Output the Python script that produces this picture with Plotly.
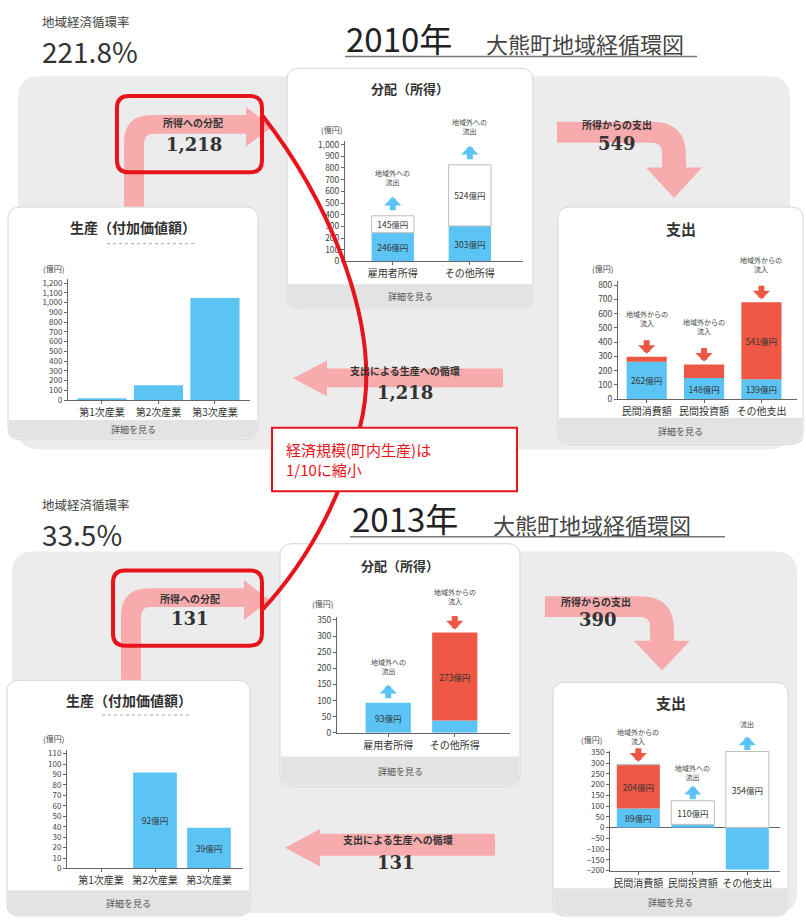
import plotly.graph_objects as go

W, H = 806, 924
JP = "Noto Sans CJK JP"
BLUE = "#5cc4f5"
RED = "#ec5843"
PINK = "#f7abad"
GRAY = "#ececec"
STRIP = "#e3e3e3"
RB = "#e8141b"
TXT = "#333333"

# ---------------- data ----------------
years = ["2010年", "2013年"]
subtitle = "大熊町地域経循環図"
circ_label = "地域経済循環率"
circ_rate = ["221.8%", "33.5%"]
flow_income = ["1,218", "131"]   # 所得への分配
flow_spend = ["549", "390"]      # 所得からの支出
flow_prod = ["1,218", "131"]     # 支出による生産への循環
note_text = "経済規模(町内生産)は<br>1/10に縮小"

prod_cats = ["第1次産業", "第2次産業", "第3次産業"]
inc_cats = ["雇用者所得", "その他所得"]
exp_cats = ["民間消費額", "民間投資額", "その他支出"]

prod_2010 = [18, 152, 1048]
inc_2010_blue = [246, 303]
inc_2010_out = [145, 524]
exp_2010_blue = [262, 148, 139]
exp_2010_in = [35, 95, 541]

prod_2013 = [0, 92, 39]
inc_2013_blue = [93, 38]
inc_2013_in = [0, 273]
exp_2013_blue = [89, 15, -195]
exp_2013_in = [204, 0, 0]
exp_2013_out = [0, 110, 354]

# which segments carry a value label
prod_2010_lbl = [False, False, False]
inc_2010_blue_lbl = [True, True]
inc_2010_out_lbl = [True, True]
exp_2010_blue_lbl = [True, True, True]
exp_2010_in_lbl = [False, False, True]
prod_2013_lbl = [False, True, True]
inc_2013_blue_lbl = [True, False]
inc_2013_in_lbl = [False, True]
exp_2013_blue_lbl = [True, False, False]
exp_2013_in_lbl = [True, False, False]
exp_2013_out_lbl = [False, True, True]

# flow arrows above bars
inc_2010_arrows = ["out", "out"]
exp_2010_arrows = ["in", "in", "in"]
inc_2013_arrows = ["out", "in"]
exp_2013_arrows = ["in", "out", "out"]
arrow_text = {"out": "地域外への<br>流出", "in": "地域外からの<br>流入"}
exp_2013_arrow_text = [arrow_text["in"], arrow_text["out"], "流出"]


def X(x):
    return x / W


def Y(y):
    return 1 - y / H


def P(cmds):
    out = []
    for c in cmds:
        nums = c[1:]
        pts = [f"{X(nums[i]):.5f},{Y(nums[i + 1]):.5f}" for i in range(0, len(nums), 2)]
        out.append(c[0] + " ".join(pts))
    return " ".join(out)


def rrect(x0, y0, x1, y1, r, rt=None, rb=None):
    rt = r if rt is None else rt
    rb = r if rb is None else rb
    return P([("M", x0 + rt, y0), ("L", x1 - rt, y0), ("Q", x1, y0, x1, y0 + rt),
              ("L", x1, y1 - rb), ("Q", x1, y1, x1 - rb, y1), ("L", x0 + rb, y1),
              ("Q", x0, y1, x0, y1 - rb), ("L", x0, y0 + rt), ("Q", x0, y0, x0 + rt, y0), ("Z",)])


shapes = []
annotations = []


def shp(path, fill=None, line=None, width=0, layer="below", dash=None):
    d = dict(type="path", path=path, xref="paper", yref="paper", layer=layer,
             line=dict(color=line or "rgba(0,0,0,0)", width=width))
    if dash:
        d["line"]["dash"] = dash
    if fill:
        d["fillcolor"] = fill
    shapes.append(d)


def txt(x, y, s, size, color=TXT, bold=False, anchor="center", family=JP, align="center"):
    annotations.append(dict(x=X(x), y=Y(y), xref="paper", yref="paper",
                            text=f"<b>{s}</b>" if bold else s, showarrow=False,
                            font=dict(size=size, color=color, family=family),
                            xanchor=anchor, yanchor="middle", align=align))


def card(x0, y0, x1, y1, strip_top, title, title_y, title_size):
    shp(rrect(x0, y0, x1, y1, 12), fill="white", line="#d6d6d6", width=1)
    shp(rrect(x0 + 1, strip_top, x1 - 1, y1 - 1, 11, rt=0), fill=STRIP)
    txt((x0 + x1) / 2, title_y, title, title_size, bold=True)
    txt((x0 + x1) / 2, (strip_top + y1) / 2, "詳細を見る", 9, color="#555")


def income_arrow(sx0, sx1, by0, by1, hx, tipx, hy0, hy1, yb):
    r = 28
    cy = (hy0 + hy1) / 2
    shp(P([("M", sx0, yb), ("L", sx0, by0 + r), ("Q", sx0, by0, sx0 + r, by0), ("L", hx, by0),
           ("L", hx, hy0), ("L", tipx, cy), ("L", hx, hy1), ("L", hx, by1),
           ("L", sx1 + 10, by1), ("Q", sx1, by1, sx1, by1 + 10), ("L", sx1, yb), ("Z",)]), fill=PINK)


def spend_arrow(bx0, by0, by1, sx0, sx1, hy, hx0, hx1, tipy):
    r = 34
    shp(P([("M", bx0, by0), ("L", sx1 - r, by0), ("Q", sx1, by0, sx1, by0 + r), ("L", sx1, hy),
           ("L", hx1, hy), ("L", (hx0 + hx1) / 2, tipy), ("L", hx0, hy), ("L", sx0, hy),
           ("L", sx0, by1 + 10), ("Q", sx0, by1, sx0 - 10, by1), ("L", bx0, by1), ("Z",)]), fill=PINK)


def prod_arrow(bx1, by0, by1, hx, tipx, hy0, hy1):
    cy = (hy0 + hy1) / 2
    shp(P([("M", bx1, by0), ("L", hx, by0), ("L", hx, hy0), ("L", tipx, cy), ("L", hx, hy1),
           ("L", hx, by1), ("L", bx1, by1), ("Z",)]), fill=PINK)


# ---------------- section 2010 ----------------
txt(40, 18, circ_label, 12.5, color="#444", anchor="left")
txt(40, 47, circ_rate[0], 28, color="#333", anchor="left")
txt(344, 34, years[0], 33, color="#222", anchor="left")
txt(484, 39, subtitle, 22, color="#444", anchor="left")
shapes.append(dict(type="line", xref="paper", yref="paper", x0=X(345), x1=X(697), y0=Y(53), y1=Y(53),
                   line=dict(color="#777", width=1.5), layer="below"))
shp(rrect(18, 73, 790, 450, 22), fill=GRAY)
income_arrow(124, 144, 112, 131, 246, 272, 104, 144, 206)
spend_arrow(557, 119, 140, 662, 686, 165, 646, 702, 196)
prod_arrow(503, 368, 387, 327, 293, 360, 396)
card(287, 65, 533, 308, 283, "分配（所得）", 85, 13)
card(8, 205, 258, 440, 420, "生産（付加価値額）", 225, 14)
card(558, 205, 803, 445, 418, "支出", 227, 15)
shapes.append(dict(type="line", xref="paper", yref="paper", x0=X(107), x1=X(197), y0=Y(242), y1=Y(242),
                   line=dict(color="#aaa", width=1, dash="dot"), layer="below"))
txt(193, 120, "所得への分配", 10, bold=True)
txt(194, 142, flow_income[0], 18, bold=True, family="DejaVu Serif")
txt(617, 122, "所得からの支出", 10, bold=True)
txt(617, 141, flow_spend[0], 18, bold=True, family="DejaVu Serif")
txt(405, 370, "支出による生産への循環", 10, bold=True)
txt(405, 392, flow_prod[0], 18, bold=True, family="DejaVu Serif")

# ---------------- section 2013 ----------------
txt(40, 505, circ_label, 12.5, color="#444", anchor="left")
txt(40, 535, circ_rate[1], 28, color="#333", anchor="left")
txt(350, 519, years[1], 33, color="#222", anchor="left")
txt(491, 525, subtitle, 22, color="#444", anchor="left")
shapes.append(dict(type="line", xref="paper", yref="paper", x0=X(350), x1=X(725), y0=Y(538), y1=Y(538),
                   line=dict(color="#777", width=1.5), layer="below"))
shp(rrect(12, 553, 797, 918, 22), fill=GRAY)
income_arrow(121, 141, 590, 609, 244, 270, 582, 622, 684)
spend_arrow(545, 598, 619, 650, 674, 643, 634, 690, 673)
prod_arrow(495, 838, 860, 320, 285, 833, 871)
card(280, 545, 520, 790, 760, "分配（所得）", 567, 13)
card(7, 683, 250, 921, 895, "生産（付加価値額）", 703, 14)
card(553, 685, 788, 921, 893, "支出", 705, 15)
shapes.append(dict(type="line", xref="paper", yref="paper", x0=X(102), x1=X(190), y0=Y(718), y1=Y(718),
                   line=dict(color="#aaa", width=1, dash="dot"), layer="below"))
txt(190, 600, "所得への分配", 10, bold=True)
txt(190, 621, flow_income[1], 18, bold=True, family="DejaVu Serif")
txt(596, 603, "所得からの支出", 10, bold=True)
txt(598, 622, flow_spend[1], 18, bold=True, family="DejaVu Serif")
txt(398, 844, "支出による生産への循環", 10, bold=True)
txt(396, 867, flow_prod[1], 18, bold=True, family="DejaVu Serif")

# ---------------- red highlight ----------------
shp(P([("M", 262, 112), ("C", 330, 200, 385, 330, 360, 427), ("C", 345, 485, 315, 555, 262, 612)]),
    line=RB, width=4, layer="above")
shp(rrect(272, 428, 517, 492, 0), fill="white", line=RB, width=2, layer="above")
annotations.append(dict(x=X(284), y=Y(460), xref="paper", yref="paper", text=note_text, showarrow=False,
                        font=dict(size=15, color=RB, family=JP), xanchor="left", yanchor="middle", align="left"))
shp(rrect(117, 93, 262, 170, 12), line=RB, width=4, layer="above")
shp(rrect(113, 572, 262, 648, 12), line=RB, width=4, layer="above")

# ---------------- charts ----------------
charts = [
    dict(cats=prod_cats, dom=(68, 250, 278, 400), yr=[0, 1240], xr=[-0.6, 2.62], dtick=100, unit=(53, 267),
         width=0.87, tf=8, series=[(prod_2010, BLUE, prod_2010_lbl, False)]),
    dict(cats=inc_cats, dom=(345, 523, 138, 260), yr=[0, 1034], xr=[-0.62, 1.69], dtick=100, unit=(331, 127),
         width=0.55, tf=8.5, series=[(inc_2010_blue, BLUE, inc_2010_blue_lbl, False),
                                     (inc_2010_out, "white", inc_2010_out_lbl, True)],
         arrows=inc_2010_arrows, atext=[arrow_text[a] for a in inc_2010_arrows], hoff=19, loff=38),
    dict(cats=exp_cats, dom=(618, 797, 280, 399), yr=[0, 828], xr=[-0.5, 2.62], dtick=100, unit=(602, 267),
         width=0.7, tf=8.5, series=[(exp_2010_blue, BLUE, exp_2010_blue_lbl, False),
                                    (exp_2010_in, RED, exp_2010_in_lbl, False)],
         arrows=exp_2010_arrows, atext=[arrow_text[a] for a in exp_2010_arrows], hoff=19, loff=38),
    dict(cats=prod_cats, dom=(67, 243, 753, 873), yr=[0, 113.8], xr=[-0.63, 2.63], dtick=10, unit=(54, 742),
         width=0.81, tf=8, series=[(prod_2013, BLUE, prod_2013_lbl, False)]),
    dict(cats=inc_cats, dom=(337, 510, 619, 736), yr=[0, 359], xr=[-0.77, 1.83], dtick=50, unit=(322, 605),
         width=0.68, tf=8.5, series=[(inc_2013_blue, BLUE, inc_2013_blue_lbl, False),
                                     (inc_2013_in, RED, inc_2013_in_lbl, False)],
         arrows=inc_2013_arrows, atext=[arrow_text[a] for a in inc_2013_arrows], hoff=18, loff=36),
    dict(cats=exp_cats, dom=(610, 780, 754, 876), yr=[-204, 358], xr=[-0.52, 2.6], dtick=50, unit=(591, 743),
         width=0.79, tf=8, series=[(exp_2013_blue, BLUE, exp_2013_blue_lbl, False),
                                   (exp_2013_in, RED, exp_2013_in_lbl, False),
                                   (exp_2013_out, "white", exp_2013_out_lbl, True)],
         arrows=exp_2013_arrows, atext=exp_2013_arrow_text, hoff=15, loff=28, zero=True),
]

fig = go.Figure()
layout = {}
for i, ch in enumerate(charts, 1):
    sx = "" if i == 1 else str(i)
    xref, yref = "x" + sx, "y" + sx
    l, r, t, b = ch["dom"]
    layout["xaxis" + sx] = dict(domain=[X(l), X(r)], range=ch["xr"], anchor=yref, type="category",
                                categoryorder="array", categoryarray=ch["cats"], showline=True,
                                linecolor="#666", ticks="outside", ticklen=3, tickcolor="#666",
                                tickfont=dict(size=10, family=JP, color=TXT), showgrid=False, zeroline=False,
                                fixedrange=True)
    layout["yaxis" + sx] = dict(domain=[Y(b), Y(t)], range=ch["yr"], anchor=xref, dtick=ch["dtick"], tick0=0,
                                showline=True, linecolor="#666", ticks="outside", ticklen=3, tickcolor="#666",
                                tickfont=dict(size=ch["tf"], family=JP, color="#444"), tickformat=",",
                                showgrid=False, zeroline=ch.get("zero", False), zerolinecolor="#666",
                                zerolinewidth=1, fixedrange=True)
    for vals, col, lbl, outline in ch["series"]:
        fig.add_trace(go.Bar(
            x=ch["cats"], y=vals, xaxis=xref, yaxis=yref, width=ch["width"],
            marker=dict(color=col, line=dict(color="#bdbdbd" if outline else col, width=1 if outline else 0)),
            text=[f"{v}億円" if s else "" for v, s in zip(vals, lbl)],
            textposition="inside", insidetextanchor="middle", textangle=0,
            textfont=dict(size=8.5, color=TXT, family=JP), constraintext="none",
            showlegend=False, hoverinfo="skip"))
    ux, uy = ch["unit"]
    txt(ux, uy, "(億円)", 8, color="#444")
    if "arrows" in ch:
        tops = [sum(v for v in vals_ if v > 0) for vals_ in zip(*[s[0] for s in ch["series"]])]
        for cat, top, kind, atxt in zip(ch["cats"], tops, ch["arrows"], ch["atext"]):
            if kind == "out":
                annotations.append(dict(x=cat, y=top, xref=xref, yref=yref, text="", showarrow=True,
                                        ax=0, ay=15, yshift=ch["hoff"], arrowhead=1, arrowsize=0.48,
                                        arrowwidth=6, arrowcolor=BLUE))
            else:
                annotations.append(dict(x=cat, y=top, xref=xref, yref=yref, text="", showarrow=True,
                                        ax=0, ay=-15, yshift=3, arrowhead=1, arrowsize=0.48,
                                        arrowwidth=6, arrowcolor=RED))
            annotations.append(dict(x=cat, y=top, xref=xref, yref=yref, text=atxt, showarrow=False,
                                    yshift=ch["loff"], font=dict(size=7, color="#444", family=JP),
                                    yanchor="middle"))

fig.update_layout(
    width=W, height=H, margin=dict(l=0, r=0, t=0, b=0),
    paper_bgcolor="white", plot_bgcolor="rgba(0,0,0,0)",
    barmode="relative", shapes=shapes, annotations=annotations,
    font=dict(family=JP, color=TXT), **layout)

fig.write_html("out.html", config={"displayModeBar": False},
               post_script="document.body.style.margin='0';document.body.style.overflow='hidden';")
